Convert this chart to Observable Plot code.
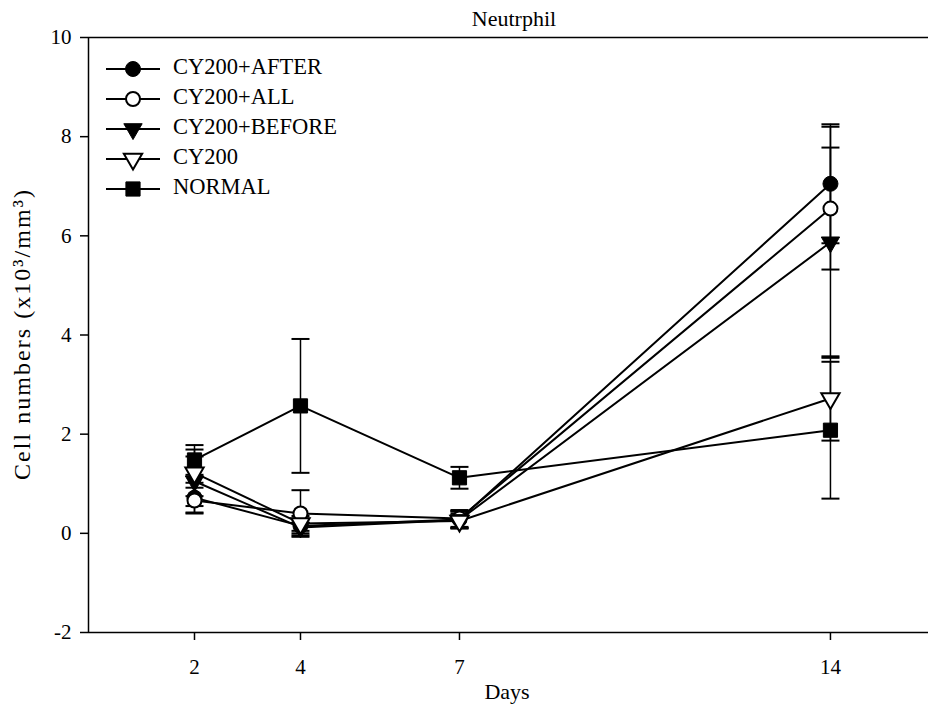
<!DOCTYPE html>
<html>
<head>
<meta charset="utf-8">
<script src="https://cdn.jsdelivr.net/npm/d3@7"></script>
<script src="https://cdn.jsdelivr.net/npm/@observablehq/plot@0.6"></script>
<style>
  html, body { margin: 0; padding: 0; background: #fff; }
  #wrap { position: relative; width: 928px; height: 705px; }
  #wrap svg { position: absolute; left: 0; top: 0; }
</style>
</head>
<body>
<div id="wrap"></div>
<script>
// ---- data ----
const days = [2, 4, 7, 14];
const xTicks = [2, 4, 7, 14];
const yTicks = [-2, 0, 2, 4, 6, 8, 10];
const seriesNames = ["CY200+AFTER", "CY200+ALL", "CY200+BEFORE", "CY200", "NORMAL"];
const afterMean  = [0.72, 0.15, 0.28, 7.05];
const afterErr   = [0.30, 0.15, 0.17, 1.20];
const allMean    = [0.66, 0.40, 0.30, 6.55];
const allErr     = [0.26, 0.47, 0.17, 1.23];
const beforeMean = [1.05, 0.12, 0.27, 5.87];
const beforeErr  = [0.50, 0.16, 0.17, 2.33];
const cy200Mean  = [1.22, 0.20, 0.25, 2.72];
const cy200Err   = [0.47, 0.15, 0.15, 0.85];
const normalMean = [1.48, 2.57, 1.12, 2.08];
const normalErr  = [0.30, 1.35, 0.22, 1.38];
const titleText = "Neutrphil";
const xLabel = "Days";
const yLabel = "Cell numbers (x10³/mm³)";

// ---- build table ----
const means = [afterMean, allMean, beforeMean, cy200Mean, normalMean];
const errs = [afterErr, allErr, beforeErr, cy200Err, normalErr];
const rows = [];
seriesNames.forEach((s, i) => days.forEach((d, j) => rows.push({
  series: s, day: d, value: means[i][j], lo: means[i][j] - errs[i][j], hi: means[i][j] + errs[i][j]
})));

// ---- styles ----
const styles = {
  "CY200+AFTER":  {symbol: "circle",   fill: "black", rotate: 0,   r: 7.5},
  "CY200+ALL":    {symbol: "circle",   fill: "white", rotate: 0,   r: 7},
  "CY200+BEFORE": {symbol: "triangle", fill: "black", rotate: 180, r: 6.8},
  "CY200":        {symbol: "triangle", fill: "white", rotate: 180, r: 6.8},
  "NORMAL":       {symbol: "square",   fill: "black", rotate: 0,   r: 8}
};
const capSymbol = {draw(ctx) { ctx.moveTo(-9, 0); ctx.lineTo(9, 0); }};
const FONT = "'Liberation Serif', 'Times New Roman', serif";

const W = 928, H = 705, ML = 88, MT = 37, MB = 73, MR = 0;

const marks = [
  Plot.ruleY([10], {stroke: "black", strokeWidth: 1.5}),
  Plot.axisY({ticks: yTicks, tickSize: 8, tickPadding: 9, label: null, fontSize: 21, strokeWidth: 1.5,
              tickFormat: d => String(d)}),
  Plot.axisX({ticks: xTicks, tickSize: 8, tickPadding: 19, label: null, fontSize: 21, strokeWidth: 1.5,
              tickFormat: d => String(d)}),
  Plot.ruleX([0], {stroke: "black", strokeWidth: 1.5}),
  Plot.ruleY([-2], {stroke: "black", strokeWidth: 1.5}),
  Plot.line(rows, {x: "day", y: "value", z: "series", stroke: "black", strokeWidth: 2}),
  Plot.ruleX(rows, {x: "day", y1: "lo", y2: "hi", stroke: "black", strokeWidth: 1.5}),
  Plot.dot(rows, {x: "day", y: "lo", symbol: capSymbol, stroke: "black", strokeWidth: 2, r: 3}),
  Plot.dot(rows, {x: "day", y: "hi", symbol: capSymbol, stroke: "black", strokeWidth: 2, r: 3})
];
seriesNames.forEach(s => {
  const st = styles[s];
  marks.push(Plot.dot(rows.filter(d => d.series === s), {
    x: "day", y: "value", symbol: st.symbol, fill: st.fill, stroke: "black",
    strokeWidth: st.fill === "white" ? 2 : 1, r: st.r, rotate: st.rotate
  }));
});

const chart = Plot.plot({
  width: W, height: H,
  marginLeft: ML, marginRight: MR, marginTop: MT, marginBottom: MB,
  style: {fontFamily: FONT, fontSize: "21px", color: "black", background: "white", overflow: "visible"},
  x: {domain: [0, 15.85]},
  y: {domain: [-2, 10]},
  marks
});
document.getElementById("wrap").appendChild(chart);

// ---- overlay: title, axis labels, legend ----
const ov = d3.select("#wrap").append("svg")
  .attr("width", W).attr("height", H)
  .attr("font-family", FONT).style("pointer-events", "none");

ov.append("text").attr("x", 514).attr("y", 21).attr("text-anchor", "middle")
  .attr("dominant-baseline", "middle").attr("font-size", 22).text(titleText);
ov.append("text").attr("x", 507).attr("y", 694).attr("text-anchor", "middle")
  .attr("dominant-baseline", "middle").attr("font-size", 22).text(xLabel);
ov.append("text").attr("transform", "translate(24,335) rotate(-90)").attr("text-anchor", "middle")
  .attr("dominant-baseline", "middle").attr("font-size", 24)
  .attr("textLength", 290).attr("lengthAdjust", "spacing").text(yLabel);

const symMap = {circle: d3.symbolCircle, triangle: d3.symbolTriangle, square: d3.symbolSquare};
seriesNames.forEach((s, i) => {
  const st = styles[s];
  const y = 69 + i * 30;
  const g = ov.append("g");
  g.append("line").attr("x1", 106).attr("x2", 160).attr("y1", y).attr("y2", y)
    .attr("stroke", "black").attr("stroke-width", 2);
  g.append("path")
    .attr("d", d3.symbol(symMap[st.symbol], Math.PI * st.r * st.r)())
    .attr("transform", `translate(133,${y}) rotate(${st.rotate})`)
    .attr("fill", st.fill).attr("stroke", "black")
    .attr("stroke-width", st.fill === "white" ? 2 : 1);
  g.append("text").attr("x", 173).attr("y", y).attr("dominant-baseline", "middle")
    .attr("font-size", 22.5).text(s);
});
</script>
</body>
</html>
